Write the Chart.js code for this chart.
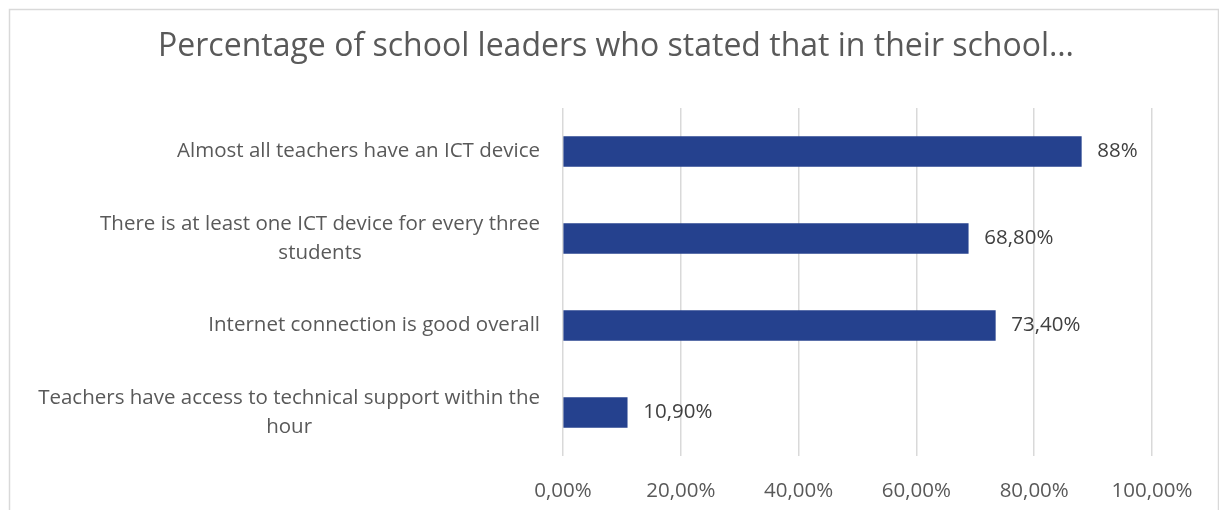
<!DOCTYPE html>
<html>
<head>
<meta charset="utf-8">
<script src="https://cdn.jsdelivr.net/npm/chart.js@4.4.1/dist/chart.umd.min.js"></script>
<style>
  html, body { margin: 0; padding: 0; background: #fff; }
  #wrap { width: 1219px; height: 510px; }
</style>
</head>
<body>
<div id="wrap"><canvas id="grafico"></canvas></div>
<script>
const titulo = 'Percentage of school leaders who stated that in their school…';
const categorias = [
    ['Almost all teachers have an ICT device'],
    ['There is at least one ICT device for every three', 'students'],
    ['Internet connection is good overall'],
    ['Teachers have access to technical support within the', 'hour']
];
const valores = [88, 68.8, 73.4, 10.9];
const rotulos = ['88%', '68,80%', '73,40%', '10,90%'];
const ticksX = ['0,00%', '20,00%', '40,00%', '60,00%', '80,00%', '100,00%'];

const fonte = "'Open Sans', 'Noto Sans', sans-serif";

// moldura, titulo e textos das categorias / valores
const extras = {
    id: 'extras',
    beforeDraw(chart) {
        const ctx = chart.ctx;
        ctx.save();
        ctx.strokeStyle = '#d9d9d9';
        ctx.lineWidth = 1.5;
        ctx.strokeRect(9.5, 9.5, 1209, 520);

        ctx.fillStyle = '#595959';
        ctx.font = '32px ' + fonte;
        ctx.textAlign = 'center';
        ctx.textBaseline = 'middle';
        ctx.fillText(titulo, 616, 47);
        ctx.restore();
    },
    afterDatasetsDraw(chart) {
        const ctx = chart.ctx;
        const y = chart.scales.y;
        const meta = chart.getDatasetMeta(0);
        ctx.save();
        ctx.font = '20.5px ' + fonte;
        ctx.textBaseline = 'middle';

        // categorias
        ctx.fillStyle = '#595959';
        categorias.forEach((linhas, i) => {
            const cy = y.getPixelForTick(i);
            const larguras = linhas.map(l => ctx.measureText(l).width);
            const maior = Math.max(...larguras);
            const centro = 540 - maior / 2;
            ctx.textAlign = 'center';
            const alt = 29;
            const topo = cy - (linhas.length - 1) * alt / 2;
            linhas.forEach((l, k) => ctx.fillText(l, centro, topo + k * alt));
        });

        // rotulos das barras
        ctx.fillStyle = '#404040';
        ctx.textAlign = 'left';
        meta.data.forEach((bar, i) => {
            ctx.fillText(rotulos[i], bar.x + 16, bar.y);
        });
        ctx.restore();
    }
};

const ctx = document.getElementById('grafico').getContext('2d');
new Chart(ctx, {
    type: 'bar',
    data: {
        labels: categorias,
        datasets: [{
            data: valores,
            backgroundColor: '#25418e',
            barThickness: 30
        }]
    },
    options: {
        indexAxis: 'y',
        responsive: true,
        maintainAspectRatio: false,
        animation: false,
        layout: { padding: { left: 0, right: 67, top: 108, bottom: 0 } },
        plugins: {
            legend: { display: false },
            tooltip: { enabled: false },
            title: { display: false }
        },
        scales: {
            x: {
                min: 0,
                max: 100,
                afterBuildTicks(s) {
                    s.ticks = ticksX.map((t, i) => ({ value: i * 20 }));
                },
                afterFit(s) { s.height = 54; },
                grid: { color: '#d9d9d9', lineWidth: 1.5, drawTicks: false },
                border: { display: false },
                ticks: {
                    color: '#595959',
                    padding: 23,
                    font: { family: fonte, size: 20.5 },
                    callback: (v, i) => ticksX[i]
                }
            },
            y: {
                afterFit(s) { s.width = 563; },
                grid: { display: false },
                border: { display: false },
                ticks: { display: false }
            }
        }
    },
    plugins: [extras]
});
</script>
</body>
</html>
